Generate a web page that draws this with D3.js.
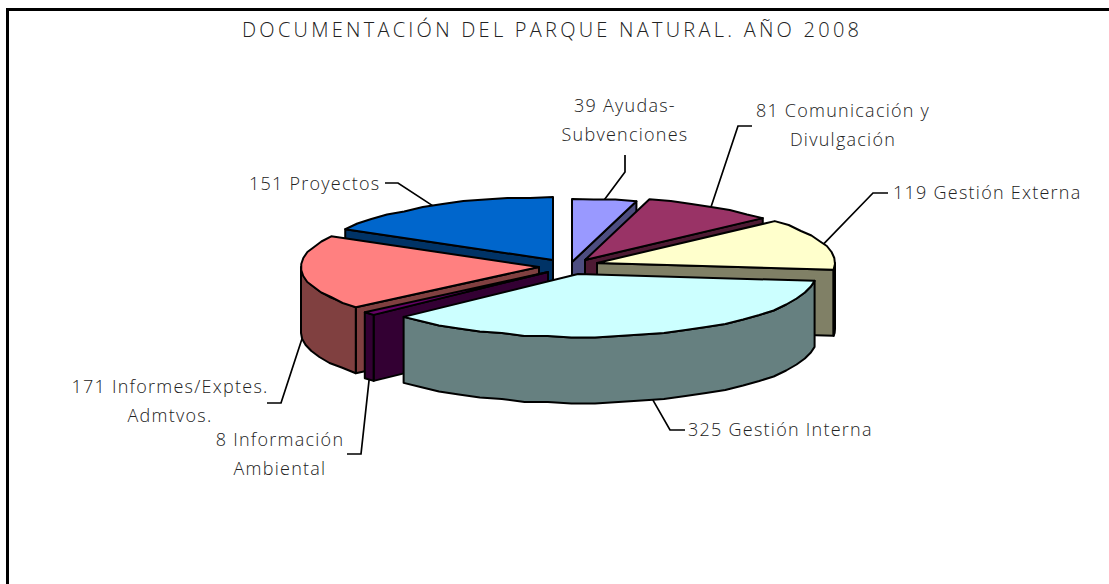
<!DOCTYPE html>
<html><head><meta charset="utf-8">
<script src="https://cdn.jsdelivr.net/npm/d3@7"></script>
<style>
html,body{margin:0;padding:0;background:#fff;overflow:hidden}
svg{display:block}
text{font-family:"Open Sans",sans-serif;font-weight:300;fill:#222}
</style></head><body><svg id="c" width="1109" height="584"></svg>
<script>
const chartTitle = "DOCUMENTACIÓN DEL PARQUE NATURAL. AÑO 2008";
const categories = ["Ayudas-Subvenciones","Comunicación y Divulgación","Gestión Externa","Gestión Interna","Información Ambiental","Informes/Exptes. Admtvos.","Proyectos"];
const values = [39,81,119,325,8,171,151];
const labelLines = [["39 Ayudas-","Subvenciones"],["81 Comunicación y","Divulgación"],["119 Gestión Externa"],["325 Gestión Interna"],["8 Información","Ambiental"],["171 Informes/Exptes.","Admtvos."],["151 Proyectos"]];
const topColors = ["#9999FF","#993366","#FFFFCC","#CCFFFF","#660066","#FF8080","#0066CC"];
const sideColors = ["#4D4D80","#4D1A33","#808066","#668080","#330033","#804040","#003366"];

// layout
const W=1109,H=584, RX=238, RY=63, DEPTH=66, JAG=1.5;
const apex=[[572,262],[585,260],[597,263],[578,274],[548,272],[539,267],[553,260]];
const labelAt=[[625,112,"middle"],[843,117,"middle"],[893,199,"start"],[688,436,"start"],[280,446,"middle"],[170,393,"middle"],[249,190,"start"]];
const elbows=[[[625,172],[625,155]],[[738,126],[752,126]],[[873,193],[888,193]],[[670,430],[685,430]],[[361,454],[347,454]],[[281,403],[267,403]],[[398,183],[385,183]]];
const order=[0,1,2,6,5,4,3];

const svg=d3.select("#c");
svg.append("rect").attr("x",7.5).attr("y",9.5).attr("width",W+40).attr("height",H+20)
  .attr("fill","#fff").attr("stroke","#000").attr("stroke-width",3);
svg.append("text").attr("x",550.5).attr("y",37).attr("text-anchor","middle")
  .style("font-size","20px").attr("textLength",617).attr("lengthAdjust","spacing").text(chartTitle);

const arcs=d3.pie().sort(null).startAngle(0).endAngle(2*Math.PI)(values);
const pt=(i,a,dz=0)=>[apex[i][0]+RX*Math.sin(a),apex[i][1]-RY*Math.cos(a)+dz];
const line=d3.line();
// the rim is a coarse polygon whose vertices snap to a small pixel grid, giving the reference's scalloped edge
const arcPts=(i,a0,a1,dz=0)=>{const n=Math.max(1,Math.ceil((a1-a0)/0.1));
  return d3.range(n+1).map(k=>{const p=pt(i,a0+(a1-a0)*k/n,dz);
    return (k===0||k===n)?p:[p[0],Math.round(p[1]/JAG)*JAG];});};
const lo=Math.PI/2, hi=3*Math.PI/2;
const gs=svg.append("g").attr("stroke","#000").attr("stroke-width",2).attr("stroke-linejoin","round");

order.forEach(i=>{
  const a0=arcs[i].startAngle,a1=arcs[i].endAngle,g=gs.append("g");
  const wall=a=>{const p=pt(i,a);const c=apex[i];
    g.append("path").attr("fill",sideColors[i]).attr("d",line([c,p,[p[0],p[1]+DEPTH],[c[0],c[1]+DEPTH]])+"Z");};
  if(a1<Math.PI) wall(a1);
  if(a0>Math.PI) wall(a0);
  const r0=Math.max(a0,lo),r1=Math.min(a1,hi);
  if(r1>r0){
    g.append("path").attr("fill",sideColors[i])
     .attr("d",line([...arcPts(i,r0,r1),...arcPts(i,r0,r1,DEPTH).reverse()])+"Z");
  }
  g.append("path").attr("fill",topColors[i]).attr("d",line([apex[i],...arcPts(i,a0,a1)])+"Z");
});

const lead=svg.append("g").attr("fill","none").attr("stroke","#000").attr("stroke-width",1.7);
arcs.forEach((d,i)=>{
  const m=(d.startAngle+d.endAngle)/2;
  const front=Math.cos(m)<0;
  const a=pt(i,m,front?DEPTH:0);
  lead.append("path").attr("d",line([a,...elbows[i]]));
  const [x,y,anc]=labelAt[i];
  const t=svg.append("text").attr("text-anchor",anc).style("font-size","18px").style("letter-spacing","1.25px");
  labelLines[i].forEach((s,k)=>t.append("tspan").attr("x",x).attr("y",y+k*29).text(s));
});
</script></body></html>
